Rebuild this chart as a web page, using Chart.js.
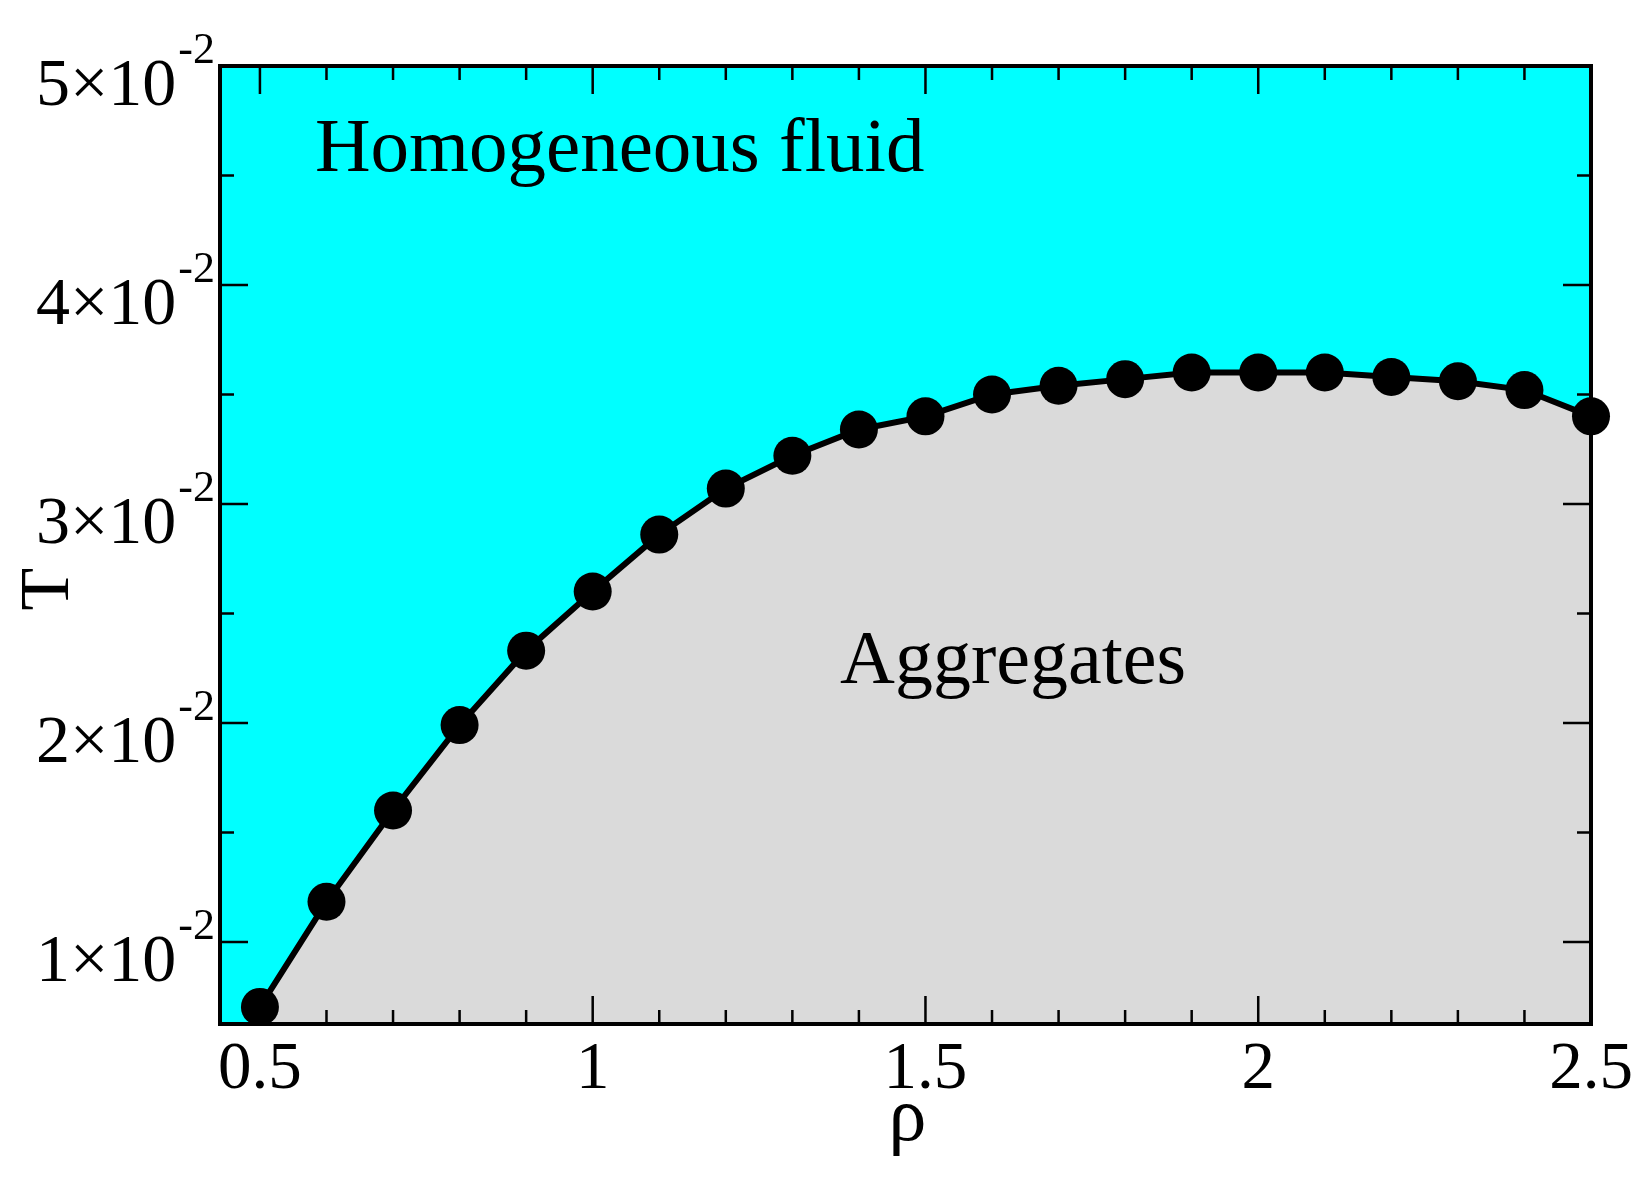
<!DOCTYPE html>
<html>
<head>
<meta charset="utf-8">
<script src="https://cdn.jsdelivr.net/npm/chart.js@4.4.1/dist/chart.umd.min.js"></script>
<style>
  body { margin: 0; background: #ffffff; }
  canvas { display: block; }
</style>
</head>
<body>
<canvas id="phase_chart" width="1648" height="1186"></canvas>
<script>
// density values and transition temperature
var rho = [0.5, 0.6, 0.7, 0.8, 0.9, 1.0, 1.1, 1.2, 1.3, 1.4, 1.5,
           1.6, 1.7, 1.8, 1.9, 2.0, 2.1, 2.2, 2.3, 2.4, 2.5];
var temperature = [0.00703, 0.01183, 0.0160, 0.0199, 0.0233, 0.0260, 0.0286, 0.0307, 0.0322, 0.0334, 0.0340,
                   0.0350, 0.0354, 0.0357, 0.0360, 0.0360, 0.0360, 0.0358, 0.0356, 0.0352, 0.0340];

// axis ticks
var xMajorTicks = [0.5, 1, 1.5, 2, 2.5];
var xTickLabels = ['0.5', '1', '1.5', '2', '2.5'];
var xMinorTicks = [0.6, 0.7, 0.8, 0.9, 1.1, 1.2, 1.3, 1.4, 1.6, 1.7, 1.8, 1.9, 2.1, 2.2, 2.3, 2.4];
var yMajorTicks = [0.01, 0.02, 0.03, 0.04, 0.05];
var yTickLabels = ['1\u00d710', '2\u00d710', '3\u00d710', '4\u00d710', '5\u00d710'];
var yTickExponent = '-2';
var yMinorTicks = [0.015, 0.025, 0.035, 0.045];

var points = [];
for (var i in rho) {
    points.push({ x: rho[i], y: temperature[i] });
}

var serif = '"Liberation Serif", "Times New Roman", serif';

var framePlugin = {
    id: 'frame',
    beforeDraw: function (chart) {
        var ctx = chart.ctx;
        var a = chart.chartArea;
        ctx.save();
        ctx.fillStyle = '#ffffff';
        ctx.fillRect(0, 0, chart.width, chart.height);
        ctx.fillStyle = '#00ffff';
        ctx.fillRect(a.left, a.top, a.right - a.left, a.bottom - a.top);
        ctx.restore();
    },
    afterDatasetsDraw: function (chart) {
        var ctx = chart.ctx;
        var a = chart.chartArea;
        var xs = chart.scales.x;
        var ys = chart.scales.y;
        ctx.save();

        // ticks on all four sides, pointing inward
        ctx.strokeStyle = '#000000';
        ctx.lineWidth = 2.5;
        function xTick(v, len) {
            var px = xs.getPixelForValue(v);
            ctx.beginPath();
            ctx.moveTo(px, a.bottom); ctx.lineTo(px, a.bottom - len);
            ctx.moveTo(px, a.top); ctx.lineTo(px, a.top + len);
            ctx.stroke();
        }
        function yTick(v, len) {
            var py = ys.getPixelForValue(v);
            ctx.beginPath();
            ctx.moveTo(a.left, py); ctx.lineTo(a.left + len, py);
            ctx.moveTo(a.right, py); ctx.lineTo(a.right - len, py);
            ctx.stroke();
        }
        xMajorTicks.forEach(function (v) { xTick(v, 28); });
        xMinorTicks.forEach(function (v) { xTick(v, 14); });
        yMajorTicks.forEach(function (v) { yTick(v, 28); });
        yMinorTicks.forEach(function (v) { yTick(v, 14); });

        // frame
        ctx.lineWidth = 4;
        ctx.strokeRect(a.left, a.top, a.right - a.left, a.bottom - a.top);

        ctx.fillStyle = '#000000';
        ctx.textBaseline = 'alphabetic';

        // x tick labels
        ctx.font = '67px ' + serif;
        ctx.textAlign = 'center';
        xMajorTicks.forEach(function (v, k) {
            ctx.fillText(xTickLabels[k], xs.getPixelForValue(v), a.bottom + 64);
        });

        // y tick labels with superscript exponent
        ctx.textAlign = 'right';
        var labelRight = a.left - 5;
        ctx.font = '44px ' + serif;
        var expWidth = ctx.measureText(yTickExponent).width;
        yMajorTicks.forEach(function (v, k) {
            var py = ys.getPixelForValue(v);
            ctx.font = '44px ' + serif;
            ctx.fillText(yTickExponent, labelRight, py - 3);
            ctx.font = '68px ' + serif;
            ctx.fillText(yTickLabels[k], labelRight - expWidth - 2, py + 39);
        });

        // axis titles
        ctx.font = '76px ' + serif;
        ctx.textAlign = 'center';
        ctx.fillText('\u03c1', (a.left + a.right) / 2 + 2, a.bottom + 116);

        ctx.save();
        ctx.translate(68, 589);
        ctx.rotate(-Math.PI / 2);
        ctx.font = '70px ' + serif;
        ctx.textAlign = 'center';
        ctx.fillText('T', 0, 0);
        ctx.restore();

        // region labels
        ctx.font = '77px ' + serif;
        ctx.textAlign = 'left';
        ctx.fillText('Homogeneous fluid', 315, 171);
        ctx.font = '76px ' + serif;
        ctx.fillText('Aggregates', 840, 683);

        ctx.restore();
    }
};

var ctx = document.getElementById('phase_chart');

var phaseChart = new Chart(ctx, {
    type: 'line',
    data: {
        datasets: [
            {
                label: 'T',
                data: points,
                borderColor: '#000000',
                borderWidth: 6,
                backgroundColor: '#dadada',
                fill: 'start',
                tension: 0,
                pointRadius: 19,
                pointBackgroundColor: '#000000',
                pointBorderColor: '#000000',
                pointBorderWidth: 0,
                clip: false
            }
        ]
    },
    options: {
        responsive: false,
        animation: false,
        devicePixelRatio: 1,
        layout: {
            padding: { left: 220, top: 66, right: 57, bottom: 162 }
        },
        plugins: {
            legend: { display: false },
            tooltip: { enabled: false }
        },
        scales: {
            x: { type: 'linear', min: 0.44, max: 2.5, display: false },
            y: { type: 'linear', min: 0.00625, max: 0.05, display: false }
        }
    },
    plugins: [framePlugin]
});
</script>
</body>
</html>
